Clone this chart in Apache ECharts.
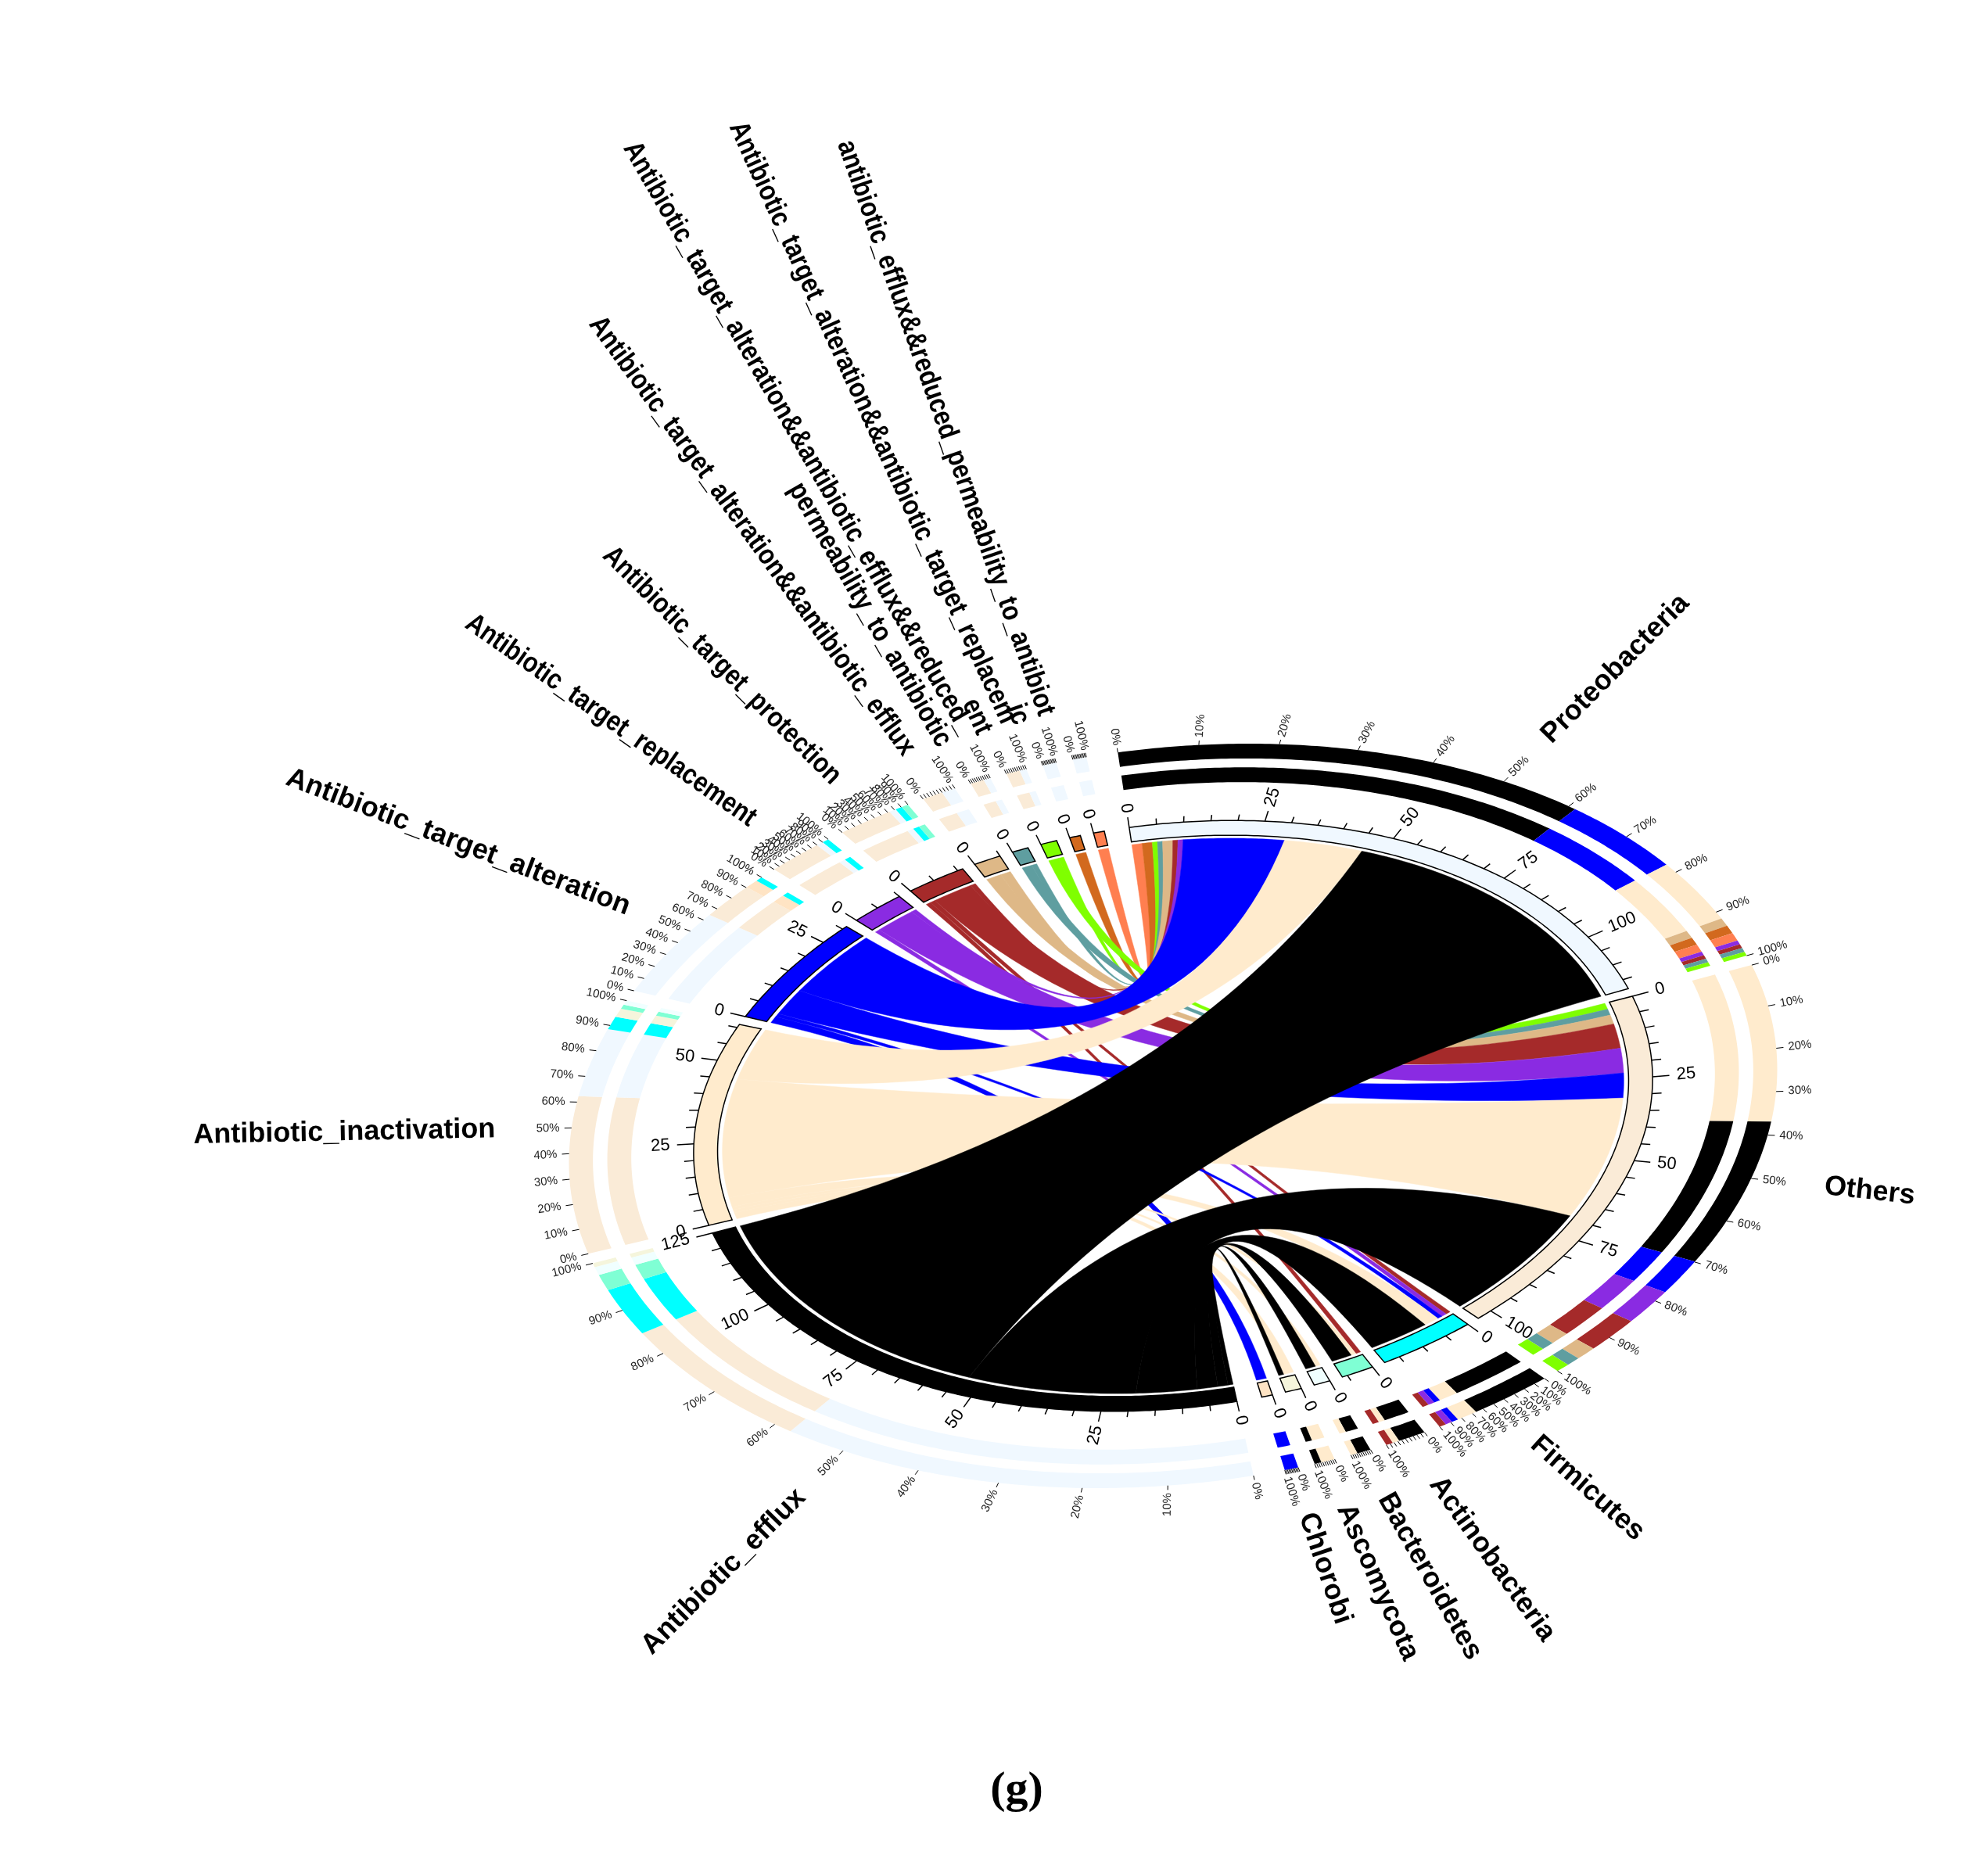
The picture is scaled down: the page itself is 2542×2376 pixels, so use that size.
<!DOCTYPE html>
<html>
<head>
<meta charset="utf-8">
<script src="https://cdn.jsdelivr.net/npm/echarts@6/dist/echarts.min.js"></script>
<style>html,body{margin:0;padding:0;background:#fff}#main{width:2542px;height:2376px}</style>
</head>
<body>
<div id="main"></div>
<script>
// 物种（门）
var phyla = ['Proteobacteria', 'Others', 'Firmicutes', 'Actinobacteria', 'Bacteroidetes', 'Ascomycota', 'Chlorobi'];
var phylaColors = ['#F0F8FF', '#FAEBD7', '#00FFFF', '#7FFFD4', '#F0FFFF', '#F5F5DC', '#FFE4C4'];
// 耐药机制
var args = ['Antibiotic_efflux', 'Antibiotic_inactivation', 'Antibiotic_target_alteration',
  'Antibiotic_target_replacement', 'Antibiotic_target_protection',
  'Antibiotic_target_alteration&&antibiotic_efflux',
  'Antibiotic_target_alteration&&antibiotic_efflux&&reduced_\npermeability_to_antibiotic',
  'Antibiotic_target_alteration&&antibiotic_target_replacem\nent',
  'antibiotic_efflux&&reduced_permeability_to_antibiot\nic', ''];
var argColors = ['#000000', '#FFEBCD', '#0000FF', '#8A2BE2', '#A52A2A', '#DEB887', '#5F9EA0', '#7FFF00', '#D2691E', '#FF7F50'];
// 连接值 行: args, 列: phyla
var efflux       = [72, 34, 12, 4, 2, 1, 0];
var inactivation = [16, 38, 3, 1, 1, 2, 0];
var alteration   = [20, 8, 1, 0, 0, 0, 2];
var replacement  = [1, 8, 1, 0, 0, 0, 0];
var protection   = [1, 8, 1, 1, 0, 0, 0];
var altEfflux    = [2, 3, 0, 0, 0, 0, 0];
var altEffluxRed = [1, 2, 0, 0, 0, 0, 0];
var altRepl      = [1, 2, 0, 0, 0, 0, 0];
var effluxRed    = [2, 0, 0, 0, 0, 0, 0];
var other        = [2, 0, 0, 0, 0, 0, 0];
var matrix = [efflux, inactivation, alteration, replacement, protection, altEfflux, altEffluxRed, altRepl, effluxRed, other];
var percentTicks = ['0%', '10%', '20%', '30%', '40%', '50%', '60%', '70%', '80%', '90%', '100%'];

var CX = 1500, CY = 1427, RX = 616, RY = 373, PHI = -7 * Math.PI / 180;
function P(r, deg) {
  var t = deg * Math.PI / 180;
  var u = r * Math.sin(t) * RX, v = -r * Math.cos(t) * RY;
  return [CX + u * Math.cos(PHI) - v * Math.sin(PHI), CY + u * Math.sin(PHI) + v * Math.cos(PHI)];
}
function arcPts(r, a1, a2) {
  var n = Math.max(2, Math.ceil(Math.abs(a2 - a1) / 0.5)), pts = [];
  for (var i = 0; i <= n; i++) pts.push(P(r, a1 + (a2 - a1) * i / n));
  return pts;
}
function band(r1, r2, a1, a2, fill, stroke) {
  var pts = arcPts(r2, a1, a2).concat(arcPts(r1, a2, a1));
  return { type: 'polygon', shape: { points: pts }, style: { fill: fill, stroke: stroke || null, lineWidth: stroke ? 1.5 : 0 } };
}
function bez(p0, p2, n) {
  var c = [CX, CY], pts = [];
  for (var i = 1; i < n; i++) {
    var t = i / n, a = (1 - t) * (1 - t), b = 2 * t * (1 - t), d = t * t;
    pts.push([a * p0[0] + b * c[0] + d * p2[0], a * p0[1] + b * c[1] + d * p2[1]]);
  }
  return pts;
}
// 径向文字
function radialText(r, deg, text, font, fill, sx) {
  var p1 = P(r, deg);
  var dx = p1[0] - CX, dy = p1[1] - CY;
  var a = Math.atan2(-dy, dx), left = dx >= -1;
  return { type: 'text', x: p1[0], y: p1[1], rotation: left ? a : a + Math.PI, scaleX: sx || 1,
    style: { text: text, font: font, fill: fill || '#000', align: left ? 'left' : 'right', verticalAlign: 'middle', lineHeight: 34 } };
}

var phylaTotals = phyla.map(function (_, j) { return matrix.reduce(function (s, row) { return s + row[j]; }, 0); });
var argTotals = matrix.map(function (row) { return row.reduce(function (s, v) { return s + v; }, 0); });

var sectors = [];
phyla.forEach(function (n, j) { sectors.push({ kind: 'p', idx: j, name: n, total: phylaTotals[j], color: phylaColors[j] }); });
args.forEach(function (n, i) { sectors.push({ kind: 'a', idx: i, name: n, total: argTotals[i], color: argColors[i] }); });
var gapSmall = 1.6, gapBig = 3;
var totalUnits = sectors.reduce(function (s, x) { return s + x.total; }, 0);
var degPerUnit = (360 - gapSmall * (sectors.length - 2) - gapBig * 2) / totalUnits;
var cur = -1;
sectors.forEach(function (s, k) {
  s.start = cur; s.end = cur + s.total * degPerUnit;
  cur = s.end + ((k === phyla.length - 1 || k === sectors.length - 1) ? gapBig : gapSmall);
});
var pSec = sectors.slice(0, phyla.length), aSec = sectors.slice(phyla.length);

function renderAll(params, api) {
  var ch = [];
  var R0 = 0.94;
  var pCursor = pSec.map(function (s) { return s.start; });
  var aCursor = aSec.map(function (s) { return s.start; });
  var pPos = {}, aPos = {};
  pSec.forEach(function (s, j) {
    for (var i = args.length - 1; i >= 0; i--) {
      var v = matrix[i][j]; if (!v) continue;
      pPos[i + '_' + j] = [pCursor[j], pCursor[j] + v * degPerUnit]; pCursor[j] += v * degPerUnit;
    }
  });
  aSec.forEach(function (s, i) {
    for (var j = phyla.length - 1; j >= 0; j--) {
      var v = matrix[i][j]; if (!v) continue;
      aPos[i + '_' + j] = [aCursor[i], aCursor[i] + v * degPerUnit]; aCursor[i] += v * degPerUnit;
    }
  });
  for (var i = args.length - 1; i >= 0; i--) {
    for (var j = 0; j < phyla.length; j++) {
      if (!matrix[i][j]) continue;
      var a = aPos[i + '_' + j], b = pPos[i + '_' + j];
      var pts = arcPts(R0, a[0], a[1]);
      pts = pts.concat(bez(P(R0, a[1]), P(R0, b[0]), 40));
      pts = pts.concat(arcPts(R0, b[0], b[1]));
      pts = pts.concat(bez(P(R0, b[1]), P(R0, a[0]), 40));
      ch.push({ type: 'polygon', shape: { points: pts }, style: { fill: argColors[i], stroke: argColors[i], lineWidth: 0.5 } });
    }
  }
  sectors.forEach(function (s) {
    ch.push(band(0.95, 1.0, s.start, s.end, s.color, '#000'));
    for (var u = 0; u <= s.total; u += 5) {
      var d = s.start + u * degPerUnit, major = u % 25 === 0;
      ch.push({ type: 'polyline', shape: { points: [P(1.0, d), P(major ? 1.035 : 1.02, d)] }, style: { stroke: '#000', lineWidth: 1.5 } });
      if (major) ch.push(radialText(1.05, d, String(u), '22px Liberation Sans', '#000'));
    }
    var parts = [];
    if (s.kind === 'p') args.forEach(function (_, i) { if (matrix[i][s.idx]) parts.push([matrix[i][s.idx], argColors[i]]); });
    else phyla.forEach(function (_, j) { if (matrix[s.idx][j]) parts.push([matrix[s.idx][j], phylaColors[j]]); });
    parts.sort(function (x, y) { return y[0] - x[0]; });
    var c = s.start;
    parts.forEach(function (p) {
      var e = c + p[0] * degPerUnit;
      ch.push(band(1.13, 1.18, c, e, p[1]));
      ch.push(band(1.21, 1.26, c, e, p[1]));
      c = e;
    });
    var wide = s.end - s.start > 6;
    percentTicks.forEach(function (t, k) {
      var d = s.start + (s.end - s.start) * k / 10;
      ch.push({ type: 'polyline', shape: { points: [P(1.26, d), P(1.275, d)] }, style: { stroke: '#000', lineWidth: 1 } });
      if (wide || k === 0 || k === 10) ch.push(radialText(1.285, d, t, '15px Liberation Sans', '#222'));
    });
    if (s.name) ch.push(radialText(1.42, (s.start + s.end) / 2, s.name, 'bold 36px Liberation Sans', '#000', s.kind === 'a' && s.idx > 2 ? 0.86 : 1));
  });
  ch.push({ type: 'text', x: 1300, y: 2290, style: { text: '(g)', font: 'bold 58px Liberation Serif', fill: '#000', align: 'center', verticalAlign: 'middle' } });
  return { type: 'group', children: ch };
}

var myChart = echarts.init(document.getElementById('main'));
myChart.setOption({
  animation: false,
  series: [{ type: 'custom', coordinateSystem: 'none', data: [0], renderItem: renderAll }]
});
</script>
</body>
</html>
